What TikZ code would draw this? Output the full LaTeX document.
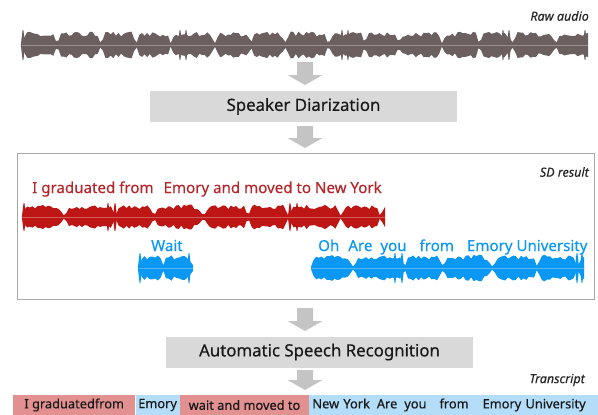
\documentclass[tikz,border=0pt]{standalone}
\usepackage{fontspec}
\setmainfont{Noto Sans}[FakeBold=0.35]
\usetikzlibrary{positioning}

\definecolor{rawgray}{HTML}{6B5F5F}
\definecolor{spkred}{HTML}{BE1515}
\definecolor{spkredtext}{HTML}{B5262B}
\definecolor{spkblue}{HTML}{0A98F2}
\definecolor{boxgray}{HTML}{D9D9D9}
\definecolor{arrowgray}{HTML}{C4C4C4}
\definecolor{framegray}{HTML}{A8A8A8}
\definecolor{lightred}{HTML}{E29090}
\definecolor{lightblue}{HTML}{B3DDF8}

\tikzset{
  declare function={wamp(\t,\p)=0.08+0.92*min(1,3*abs(sin((180/\p)*\t+15*sin(3.1*\t))))*(0.52+0.36*rnd);},
  stage/.style={fill=boxgray,minimum width=307pt,minimum height=31pt,inner sep=0pt,text=black!90,font=\fontsize{16.8}{20}\selectfont},
  tag/.style={font=\itshape\fontsize{12.5}{15}\selectfont,text=black!85,inner sep=0pt},
  said/.style={font=\fontsize{15.1}{18}\selectfont,inner sep=0pt},
  seg/.style={minimum height=20pt,inner sep=0pt,text=black!90,font=\fontsize{12.8}{15}\selectfont}
}

% color, left x, width, center y, amplitude, period, seed, spikes
\newcommand\audiowave[8]{%
  \pgfmathtruncatemacro\nsamp{#3/2.6+1}
  \pgfmathsetseed{#7}
  \fill[#1] (#2,#4) -- plot[domain=0:#3,samples=\nsamp] ({#2+\x},{#4-#5*wamp(\x,#6)}) -- (#2+#3,#4) -- cycle;
  \pgfmathsetseed{#7}
  \fill[#1] (#2,#4) -- plot[domain=0:#3,samples=\nsamp] ({#2+\x},{#4+#5*wamp(\x,#6)}) -- (#2+#3,#4) -- cycle;
  \foreach \s in {#8}
    \fill[#1] (#2+\s-2.2,#4) -- (#2+\s-0.4,#4-#5) -- (#2+\s+0.4,#4-#5) -- (#2+\s+2.2,#4)
       -- (#2+\s+0.4,#4+#5) -- (#2+\s-0.4,#4+#5) -- cycle;
  \draw[#1!70!white,line width=0.4pt] (#2,#4) -- ++(#3,0);
}
\newcommand\flowarrow[3]{%
  \fill[arrowgray] (#1-8,#2) -- (#1+8,#2) -- (#1+8,#3-10) -- (#1+17.5,#3-10)
     -- (#1,#3) -- (#1-17.5,#3-10) -- (#1-8,#3-10) -- cycle;
}

\begin{document}
\begin{tikzpicture}[x=1pt,y=-1pt]
\useasboundingbox (0,0) rectangle (598,415);

\node[tag,anchor=east] (rawlabel) at (589,16) {Raw audio};
\audiowave{rawgray}{22}{566}{45}{15}{38}{7}{1,158,164,320,326,481,487,563}
\flowarrow{305}{62}{85}
\node[stage] (sd) at (303.5,106.5) {Speaker Diarization};
\flowarrow{305}{126}{148}

\node[draw=framegray,line width=1pt,minimum width=577pt,minimum height=146pt,anchor=north west] (sdframe) at (17,153) {};
\node[tag,anchor=east] (sdlabel) at (589,172) {SD result};

\node[said,text=spkredtext,anchor=base west] (spk1) at (32,193) {I graduated from\hspace{10pt}Emory and moved to New York};
\audiowave{spkred}{22}{363}{217}{14}{45}{11}{2,86,93,268,275}

\node[said,text=spkblue,anchor=base west] (spk2a) at (151,251) {Wait};
\audiowave{spkblue}{139}{54}{268}{15}{27}{5}{1,50}
\node[said,text=spkblue,anchor=base west] (spk2b) at (318,251) {Oh\hspace{9pt}Are\hspace{8pt}you\hspace{13pt}from\hspace{13pt}Emory University};
\audiowave{spkblue}{311}{273}{268}{15}{45}{11}{84,91,266,271}

\flowarrow{305}{308}{331}
\node[stage] (asr) at (319.5,352) {Automatic Speech Recognition};
\flowarrow{305}{370}{390}
\node[tag,anchor=east] (trlabel) at (585,380) {Transcript};

\node[seg,fill=lightred,minimum width=122pt,anchor=west] (t1) at (13,405) {I graduatedfrom};
\node[seg,fill=lightblue,minimum width=44pt,right=0pt of t1] (t2) {Emory};
\node[seg,fill=lightred,minimum width=129pt,right=0pt of t2] (t3) {wait and moved to};
\node[seg,fill=lightblue,inner xsep=3pt,text width=284pt,align=left,right=0pt of t3] (t4) {New York\hspace{7pt}Are\hspace{7pt}you\hspace{13pt}from\hspace{14pt}Emory University};
\end{tikzpicture}
\end{document}
